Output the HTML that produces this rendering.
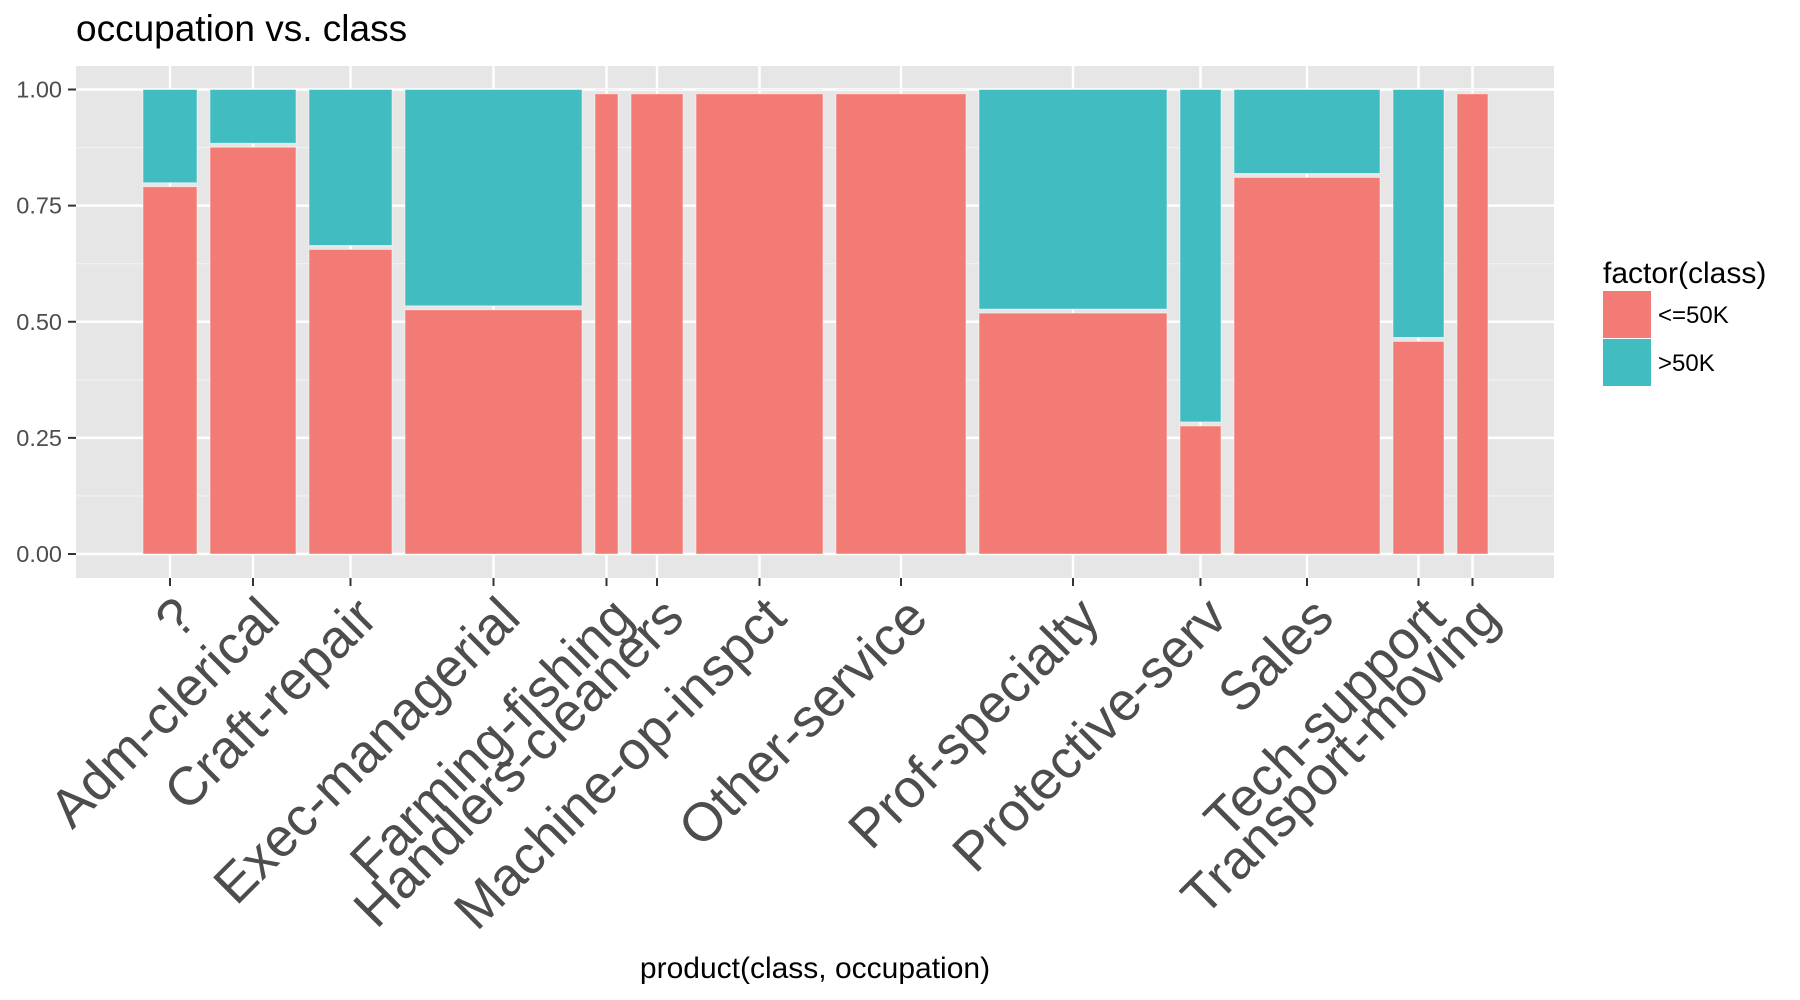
<!DOCTYPE html>
<html><head><meta charset="utf-8"><style>
body{margin:0;background:#fff;}
svg{display:block;font-family:"Liberation Sans",Arial,sans-serif;}
</style></head><body>
<svg id="chart" width="1800" height="1000" viewBox="0 0 1800 1000">
<text x="76" y="41" font-size="37" fill="#000">occupation vs. class</text>
<rect x="76" y="66" width="1478" height="512" fill="#E6E6E6"/>
<g id="grid"></g>
<g id="bars"></g>
<g id="yaxis"></g>
<g id="xaxis"></g>
<text x="815" y="978" font-size="30" text-anchor="middle" fill="#000">product(class, occupation)</text>
<g>
<text x="1603" y="283" font-size="30" fill="#000">factor(class)</text>
<g>
<rect x="1603" y="291" width="48" height="47" fill="#F27B76"/>
<text x="1658" y="323" font-size="24" fill="#000">&lt;=50K</text>
</g>
<g>
<rect x="1603" y="339" width="48" height="47" fill="#41BDC1"/>
<text x="1658" y="371" font-size="24" fill="#000">&gt;50K</text>
</g>
</g>
</svg>
<script>
const categories = ["?","Adm-clerical","Craft-repair","Exec-managerial","Farming-fishing","Handlers-cleaners","Machine-op-inspct","Other-service","Prof-specialty","Protective-serv","Sales","Tech-support","Transport-moving"];
const weights = [54,86,83,177,23,52,127,130,188,41,146,51,31];
const lowShare = [0.795,0.88,0.66,0.53,0.995,0.995,0.995,0.995,0.523,0.28,0.815,0.462,0.995];
const yTicks = [0,0.25,0.5,0.75,1];
const yTickLabels = ["0.00","0.25","0.50","0.75","1.00"];

const NS = "http://www.w3.org/2000/svg";
const X0 = 143, XEND = 1488, GAP = 13;
const Y0 = 554, Y1 = 89.5, PL = 76, PR = 1554, PT = 66, PB = 578;
function y(v){ return Y0 - v*(Y0-Y1); }
const totalW = weights.reduce((a,b)=>a+b,0);
const unit = (XEND - X0 - GAP*(weights.length-1)) / totalW;
function xStart(i){ let s = X0; for(let k=0;k<i;k++) s += weights[k]*unit + GAP; return s; }
function xWidth(i){ return weights[i]*unit; }
function el(tag, attrs, parent){ const e=document.createElementNS(NS,tag); for(const k in attrs) e.setAttribute(k,attrs[k]); parent.appendChild(e); return e; }

const grid = document.getElementById('grid');
for(let i=0;i<yTicks.length-1;i++){
  const m = (yTicks[i]+yTicks[i+1])/2;
  const l = el('line',{x1:PL,x2:PR,y1:y(m),y2:y(m),stroke:'#F2F2F2','stroke-width':1.2},grid);
  
  
}
yTicks.forEach(v=>{
  const l = el('line',{x1:PL,x2:PR,y1:y(v),y2:y(v),stroke:'#fff','stroke-width':2.4},grid);
  
  
});
categories.forEach((c,i)=>{
  const cx = xStart(i)+xWidth(i)/2;
  const l = el('line',{x1:cx,x2:cx,y1:PT,y2:PB,stroke:'#fff','stroke-width':2.4},grid);
  
  
});

const bars = document.getElementById('bars');
categories.forEach((c,i)=>{
  const x = xStart(i), w = xWidth(i), v = lowShare[i];
  const t = el('rect',{x:x,y:y(1),width:w,height:y(v)-y(1)-2,fill:'#41BDC1',stroke:'#fff','stroke-width':0.8,'stroke-opacity':0.6},bars);
  
  
  const r = el('rect',{x:x,y:y(v)+2,width:w,height:y(0)-y(v)-2,fill:'#F27B76',stroke:'#fff','stroke-width':0.8,'stroke-opacity':0.6},bars);
  
  
});

const ya = document.getElementById('yaxis');
yTicks.forEach((v,i)=>{
  const tk = el('line',{x1:68,x2:76,y1:y(v),y2:y(v),stroke:'#333','stroke-width':2},ya);
  
  
  const t = el('text',{x:62,y:y(v)+8,'text-anchor':'end','font-size':23.5,fill:'#4D4D4D'},ya);
  t.textContent = yTickLabels[i];
  
  
});

const xa = document.getElementById('xaxis');
categories.forEach((c,i)=>{
  const cx = xStart(i)+xWidth(i)/2;
  const tk = el('line',{x1:cx,x2:cx,y1:PB,y2:PB+8,stroke:'#333','stroke-width':2},xa);
  
  
  const t = el('text',{x:0,y:40,'text-anchor':'end','font-size':54,fill:'#4D4D4D',transform:'translate('+(cx+1)+','+(PB+14)+') rotate(-45)'},xa);
  t.textContent = c;
  
  
});
</script>
</body></html>
